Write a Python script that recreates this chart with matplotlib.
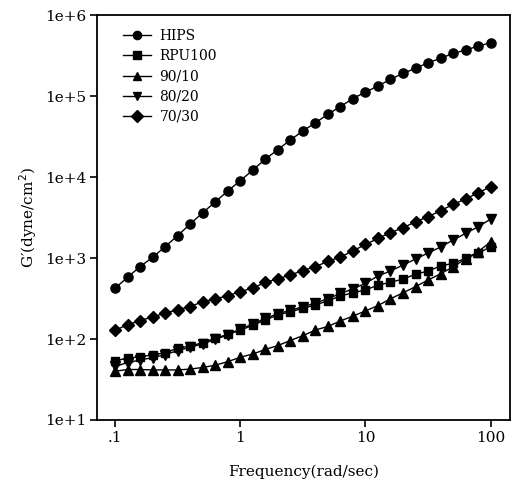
import numpy as np
import matplotlib.pyplot as plt

plt.rcParams['font.family'] = ['DejaVu Serif']

freq = [0.1, 0.126, 0.158, 0.2, 0.251, 0.316, 0.398, 0.501, 0.631, 0.794,
        1.0, 1.26, 1.58, 2.0, 2.51, 3.16, 3.98, 5.01, 6.31, 7.94,
        10.0, 12.6, 15.8, 20.0, 25.1, 31.6, 39.8, 50.1, 63.1, 79.4, 100.0]

hips = [423, 578, 781, 1020, 1380, 1885, 2630, 3625, 4915, 6720,
        9000, 12200, 16550, 21860, 28640, 36980, 46800, 59440, 74200, 93100,
        112000, 133000, 160800, 190600, 219800, 257800, 291900, 336700, 369800, 414500, 455000]
rpu100 = [54, 57.8, 60.5, 63.5, 67.7, 76.8, 82, 90, 102, 114,
          129, 147, 172, 198, 217, 239, 263, 297, 340, 373,
          403, 464, 501, 551, 630, 691, 797, 861, 991, 1143, 1380]
b90_10 = [40, 42, 42, 41.5, 41.5, 41.5, 42.5, 44.5, 47.5, 52.5,
          59.5, 65.3, 74.2, 83.1, 95.8, 110, 129, 143, 167, 192,
          222, 259, 313, 373, 443, 535, 638, 781, 973, 1203, 1578]
b80_20 = [46, 51, 55, 59, 64, 72, 79, 87, 99, 112,
          133, 153, 180, 206, 226, 250, 278, 315, 365, 415,
          488, 600, 691, 820, 972, 1153, 1368, 1668, 2018, 2433, 3030]
b70_30 = [129, 149, 169, 187, 209, 230, 251, 289, 312, 343,
          384, 426, 499, 555, 617, 701, 781, 911, 1029, 1227,
          1469, 1751, 2053, 2366, 2806, 3236, 3838, 4603, 5350, 6397, 7590]

series = [("HIPS", hips, 'o', 6.6), ("RPU100", rpu100, 's', 6.2),
          ("90/10", b90_10, '^', 6.6), ("80/20", b80_20, 'v', 6.6),
          ("70/30", b70_30, 'D', 6.3)]

fig = plt.figure(figsize=(5.16, 4.87), dpi=100)
ax = fig.add_axes([0.188, 0.1376, 0.80, 0.8315])

for name, vals, mk, ms in series:
    ax.plot(freq, vals, color='k', lw=1.0, marker=mk, ms=ms, label=name)

ax.set_xscale('log')
ax.set_yscale('log')
ax.set_xlim(0.0718, 142)
ax.set_ylim(10, 1e6)
ax.set_xticks([0.1, 1, 10, 100])
ax.set_xticklabels(['.1', '1', '10', '100'])
ax.set_yticks([10, 100, 1e3, 1e4, 1e5, 1e6])
ax.set_yticklabels(['1e+1', '1e+2', '1e+3', '1e+4', '1e+5', '1e+6'])
ax.minorticks_off()
ax.tick_params(direction='out', length=5, width=1.2, labelsize=11, pad=3)
for s in ax.spines.values():
    s.set_linewidth(1.3)

ax.set_xlabel('Frequency(rad/sec)', fontsize=11, labelpad=14)
ax.set_ylabel("G\u2032(dyne/cm$^2$)", fontsize=11, labelpad=4)

ax.legend(loc='upper left', frameon=False, fontsize=10, handlelength=2.0,
          handletextpad=0.6, labelspacing=0.45, borderaxespad=0.6,
          markerscale=0.9, bbox_to_anchor=(0.03, 1.0))

plt.savefig('out.png')
